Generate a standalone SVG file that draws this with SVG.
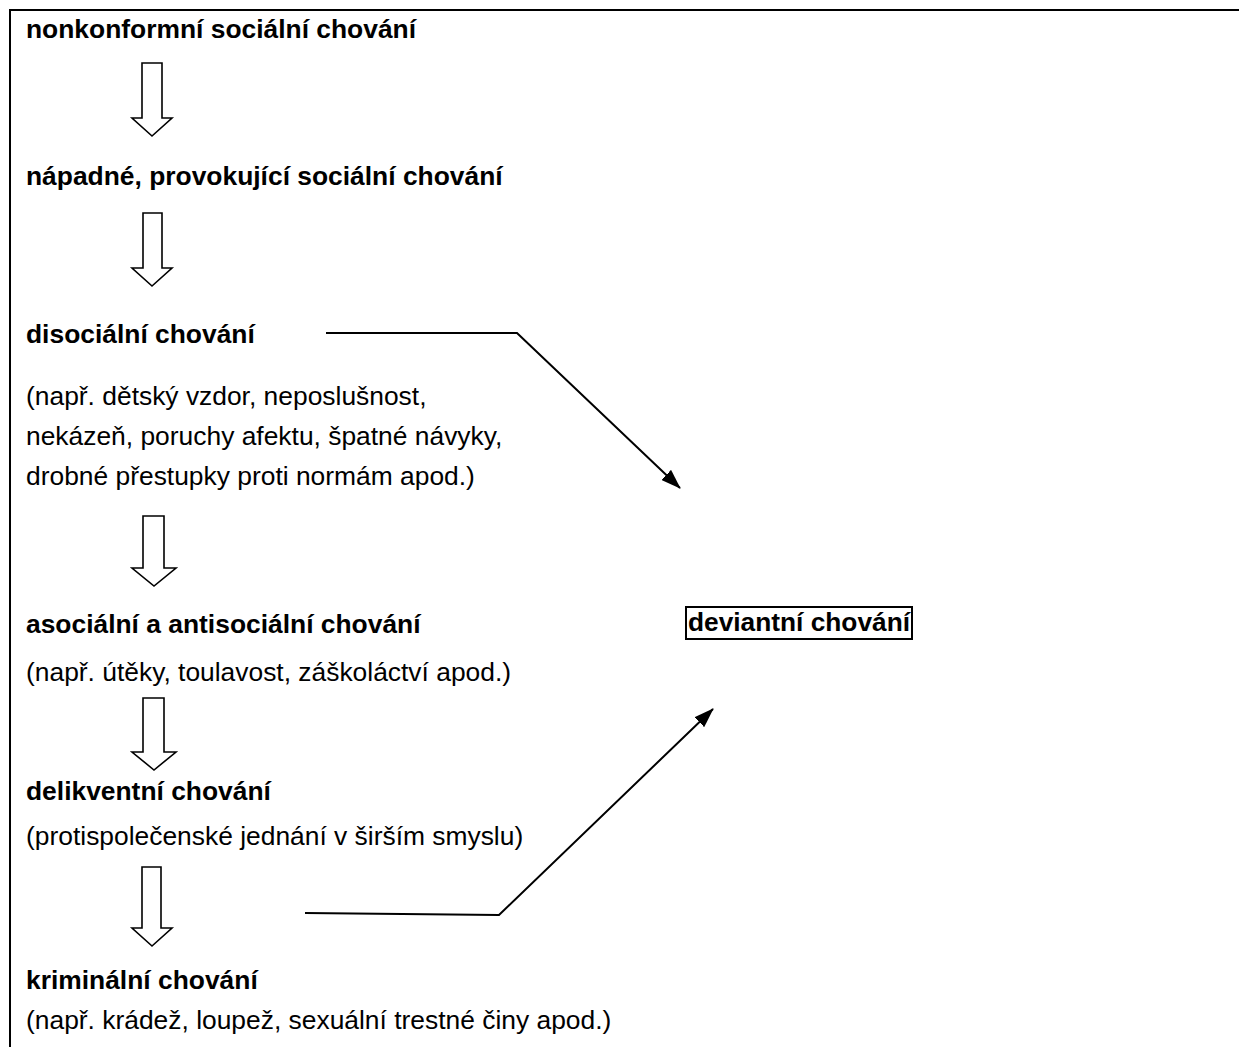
<svg xmlns="http://www.w3.org/2000/svg" width="1239" height="1047" viewBox="0 0 1239 1047">
<style>
text{font-family:"Liberation Sans",Arial,sans-serif;font-size:26.4px;fill:#000}
.b{font-weight:bold}
.blk{fill:#fff;stroke:#000;stroke-width:1.6}
.con{fill:none;stroke:#000;stroke-width:2}
</style>
<defs>
<marker id="ah" viewBox="0 0 20 14" refX="19" refY="7" markerWidth="20" markerHeight="14" markerUnits="userSpaceOnUse" orient="auto">
<path d="M0,0 L20,7 L0,14 z" fill="#000"/>
</marker>
</defs>
<rect width="1239" height="1047" fill="#fff"/>
<path d="M10,1047 V10 H1239" fill="none" stroke="#000" stroke-width="2"/>
<g id="n1"><text class="b" x="26" y="38">nonkonformní sociální chování</text></g>
<g id="a1"><polygon class="blk" points="142,63 162,63 162,118 172,118 152,136 132,118 142,118"/></g>
<g id="n2"><text class="b" x="26" y="185">nápadné, provokující sociální chování</text></g>
<g id="a2"><polygon class="blk" points="143,213 162,213 162,268 172,268 152,286 132,268 143,268"/></g>
<g id="n3"><text class="b" x="26" y="343">disociální chování</text>
<text x="26" y="405">(např. dětský vzdor, neposlušnost,</text>
<text x="26" y="445">nekázeň, poruchy afektu, špatné návyky,</text>
<text x="26" y="485">drobné přestupky proti normám apod.)</text></g>
<g id="a3"><polygon class="blk" points="143,516 164,516 164,568 176,568 154,586 132,568 143,568"/></g>
<g id="n4"><text class="b" x="26" y="633">asociální a antisociální chování</text>
<text x="26" y="681">(např. útěky, toulavost, záškoláctví apod.)</text></g>
<g id="a4"><polygon class="blk" points="143,698 164,698 164,752 176,752 154,770 132,752 143,752"/></g>
<g id="n5"><text class="b" x="26" y="800">delikventní chování</text>
<text x="26" y="845">(protispolečenské jednání v širším smyslu)</text></g>
<g id="a5"><polygon class="blk" points="142,867 161,867 161,928 172,928 152,946 132,928 142,928"/></g>
<g id="n6"><text class="b" x="26" y="989">kriminální chování</text>
<text x="26" y="1029">(např. krádež, loupež, sexuální trestné činy apod.)</text></g>
<g id="dev"><rect x="686" y="607" width="226" height="32" fill="none" stroke="#000" stroke-width="2"/>
<text class="b" x="688" y="631" textLength="222" lengthAdjust="spacingAndGlyphs">deviantní chování</text></g>
<g id="connectors">
<polyline class="con" points="326,333 517,333 680,488" marker-end="url(#ah)"/>
<polyline class="con" points="305,913 499,915 713,709" marker-end="url(#ah)"/>
</g>
</svg>
